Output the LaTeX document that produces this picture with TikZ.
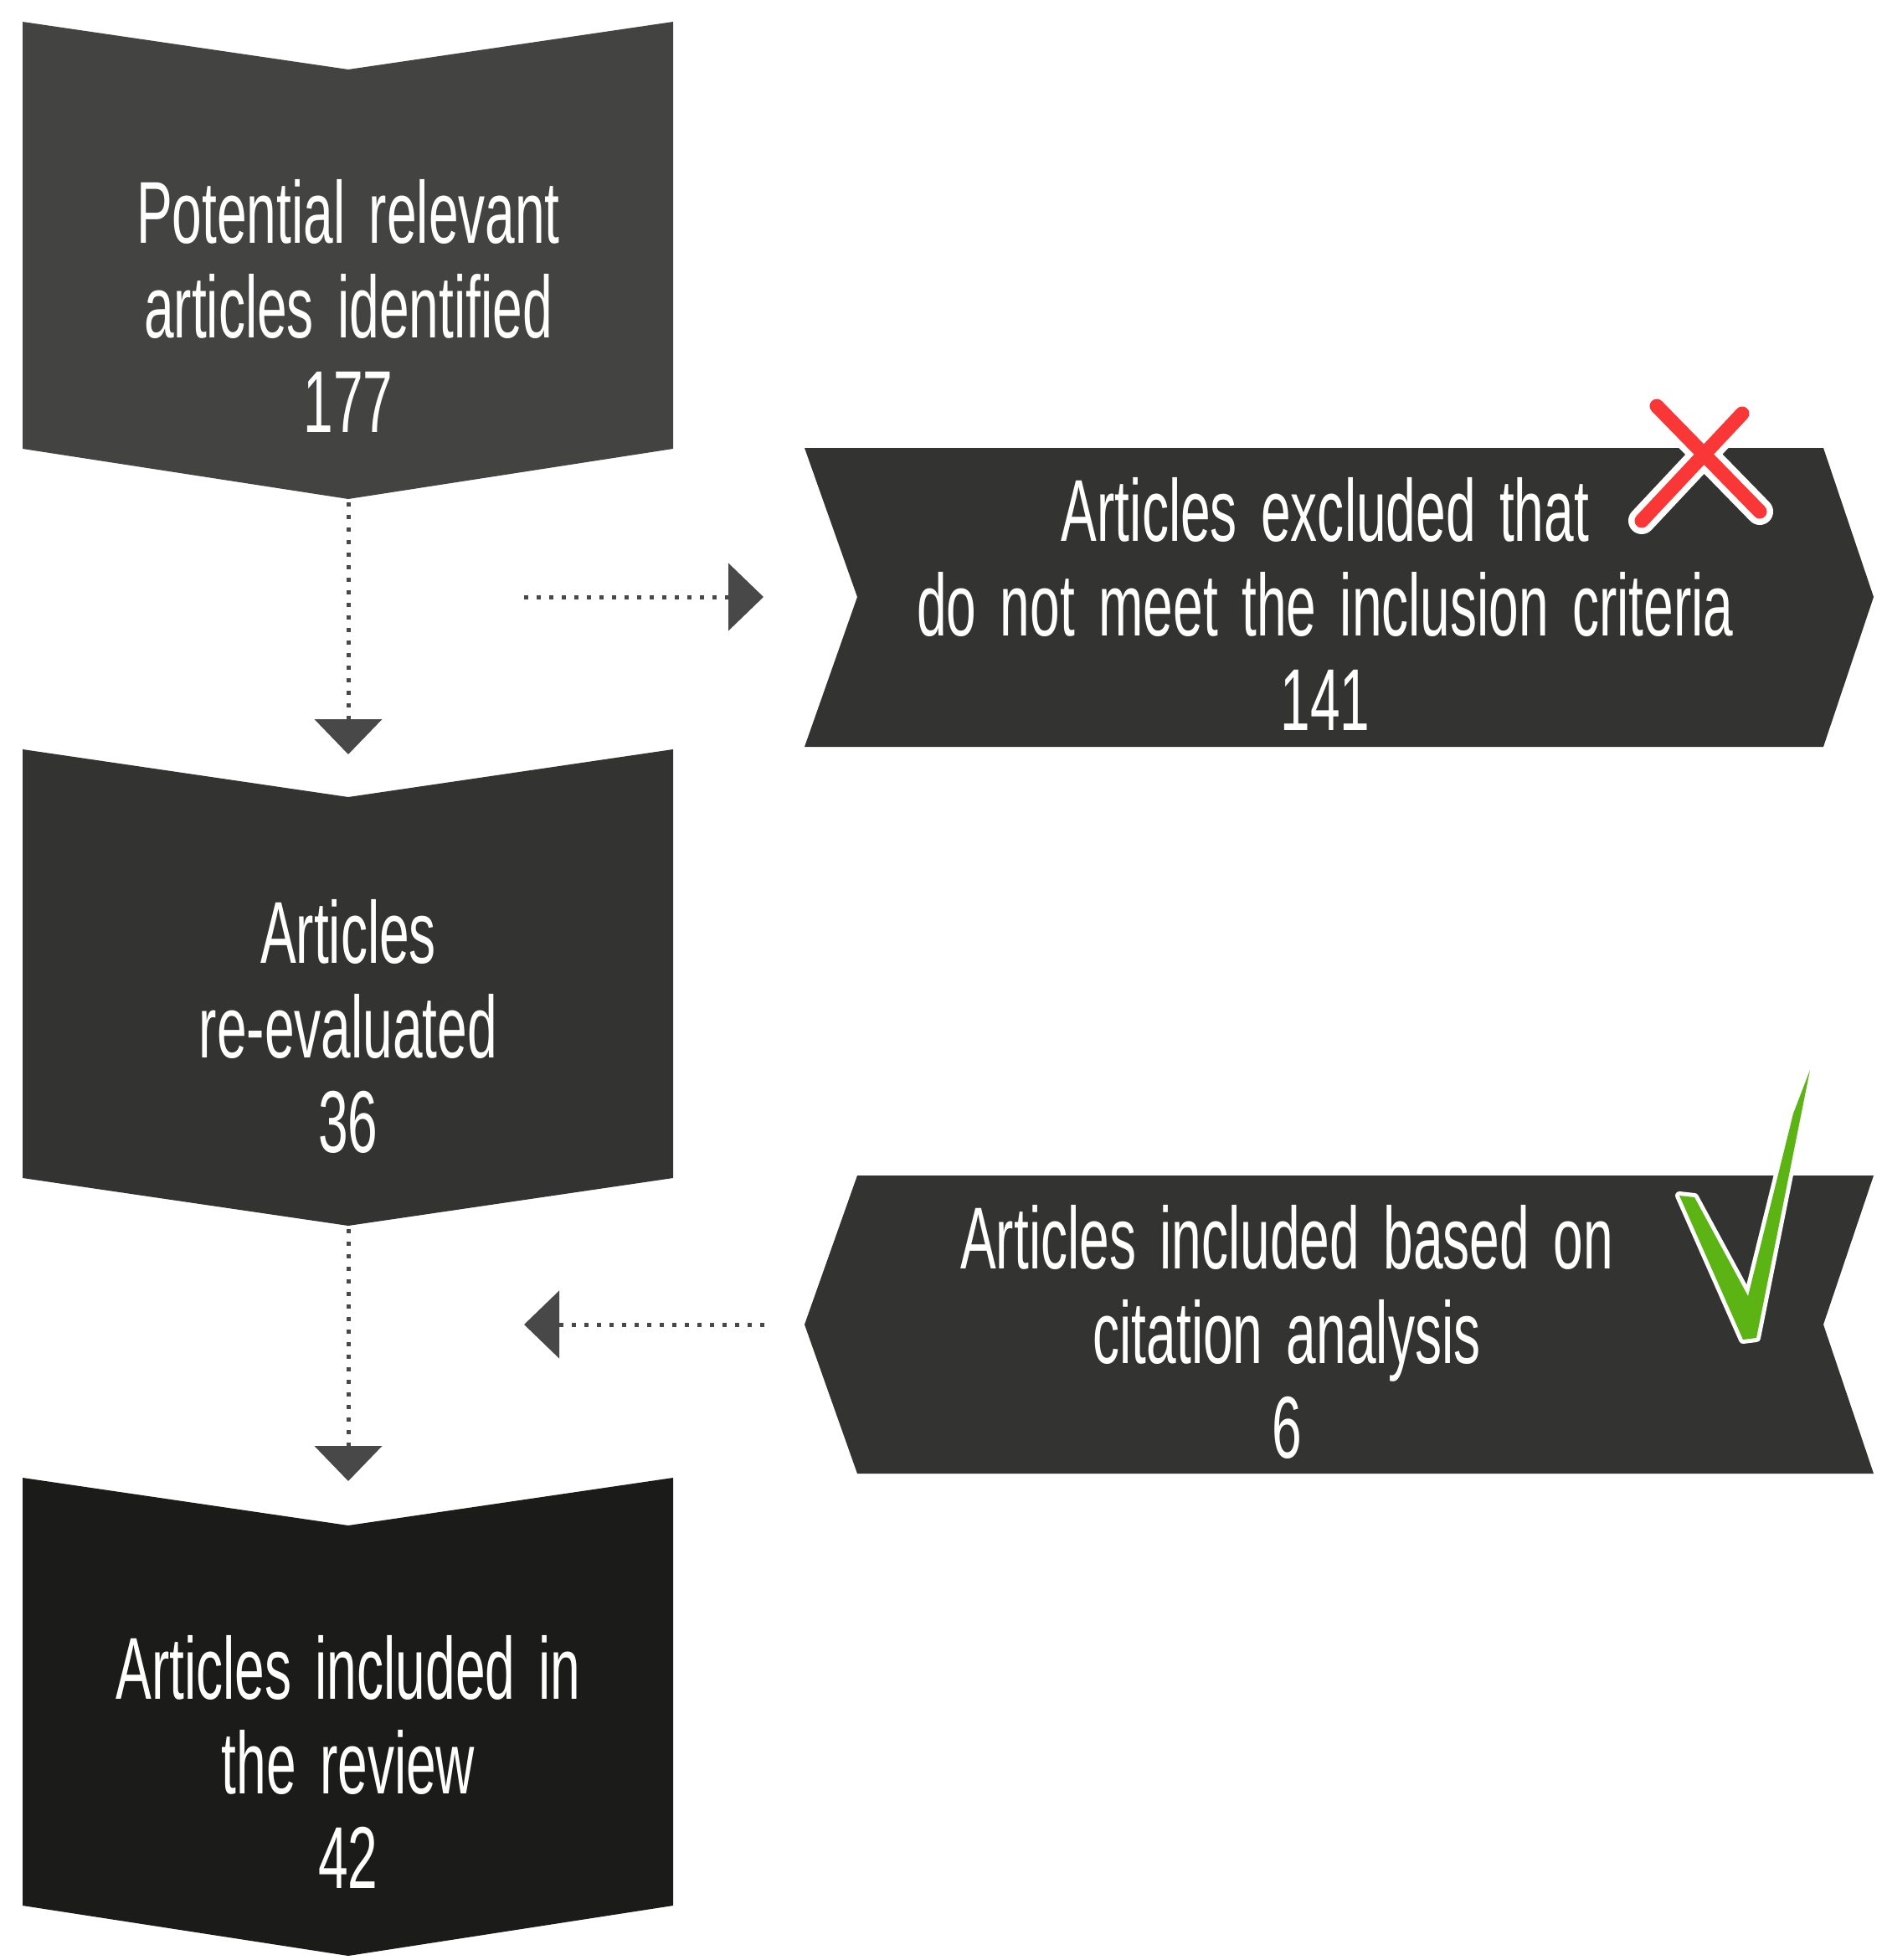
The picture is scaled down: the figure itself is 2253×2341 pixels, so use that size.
\documentclass[tikz,border=0pt]{standalone}
\usepackage{fontspec}
\setmainfont[FakeStretch=0.61,WordSpace=1.6]{Liberation Sans}
\usetikzlibrary{arrows.meta}
\definecolor{boxA}{RGB}{67,67,66}
\definecolor{boxB}{RGB}{51,51,49}
\definecolor{boxC}{RGB}{27,27,25}
\definecolor{arrowc}{RGB}{72,72,72}
\definecolor{xred}{RGB}{250,55,55}
\definecolor{tickgreen}{RGB}{92,180,20}
\begin{document}
\begin{tikzpicture}[x=1pt,y=-1pt,
  txt/.style={text=white,align=center,font=\fontsize{105}{113}\selectfont,inner sep=0pt},
  dotline/.style={draw=arrowc,line width=5pt,dash pattern=on 5pt off 10pt,
    -{Triangle[width=80pt,length=42pt,fill=arrowc]}}]
\useasboundingbox (0,0) rectangle (2253,2341);
\fill[white] (0,0) rectangle (2253,2341);
% left chevrons
\fill[boxA] (27,26) -- (416,83) -- (804,26) -- (804,536) -- (416,596) -- (27,536) -- cycle;
\fill[boxB] (27,895) -- (416,952) -- (804,895) -- (804,1407) -- (416,1464) -- (27,1407) -- cycle;
\fill[boxC] (27,1765) -- (416,1822) -- (804,1765) -- (804,2276) -- (416,2336) -- (27,2276) -- cycle;
% right arrows
\fill[boxB] (961,535) -- (2178,535) -- (2238,713) -- (2178,892) -- (961,892) -- (1024,713) -- cycle;
\fill[boxB] (1024,1404) -- (2238,1404) -- (2178,1582) -- (2238,1760) -- (1024,1760) -- (961,1582) -- cycle;
% coordinates
\coordinate (b1p) at (416,600);
\coordinate (b2t) at (416,901);
\coordinate (b2p) at (416,1468);
\coordinate (b3t) at (416,1769);
\coordinate (h1s) at (626,713);
\coordinate (h1e) at (912,713);
\coordinate (h2s) at (913,1582);
\coordinate (h2e) at (626,1582);
% connectors
\draw[dotline] (b1p) -- (b2t);
\draw[dotline] (h1s) -- (h1e);
\draw[dotline] (b2p) -- (b3t);
\draw[dotline] (h2s) -- (h2e);
% texts
\node[txt] (t1) at (416,365) {Potential relevant\\articles identified\\177};
\node[txt] (t2) at (416,1226) {Articles\\re-evaluated\\36};
\node[txt] (t3) at (416,2104) {Articles included in\\the review\\42};
\node[txt] (t4) at (1583,721) {Articles excluded that\\do not meet the inclusion criteria\\141};
\node[txt] (t5) at (1537,1591) {Articles included based on\\citation analysis\\6};
% red cross
\draw[white,line width=32pt,line cap=round] (1979,485) -- (2102,611) (2081,494) -- (1961,622);
\draw[xred,line width=17pt,line cap=round] (1979,485) -- (2102,611) (2081,494) -- (1961,622);
% green tick
\path[draw=white,line width=10pt,line join=round,fill=white]
  (2162,1278) -- (2098,1598) -- (2082,1600) -- (2006,1428) -- (2024,1430) -- (2088,1548) -- (2142,1330) -- cycle;
\fill[tickgreen] (2162,1278) -- (2098,1598) -- (2082,1600) -- (2006,1428) -- (2024,1430) -- (2088,1548) -- (2142,1330) -- cycle;
\end{tikzpicture}
\end{document}
